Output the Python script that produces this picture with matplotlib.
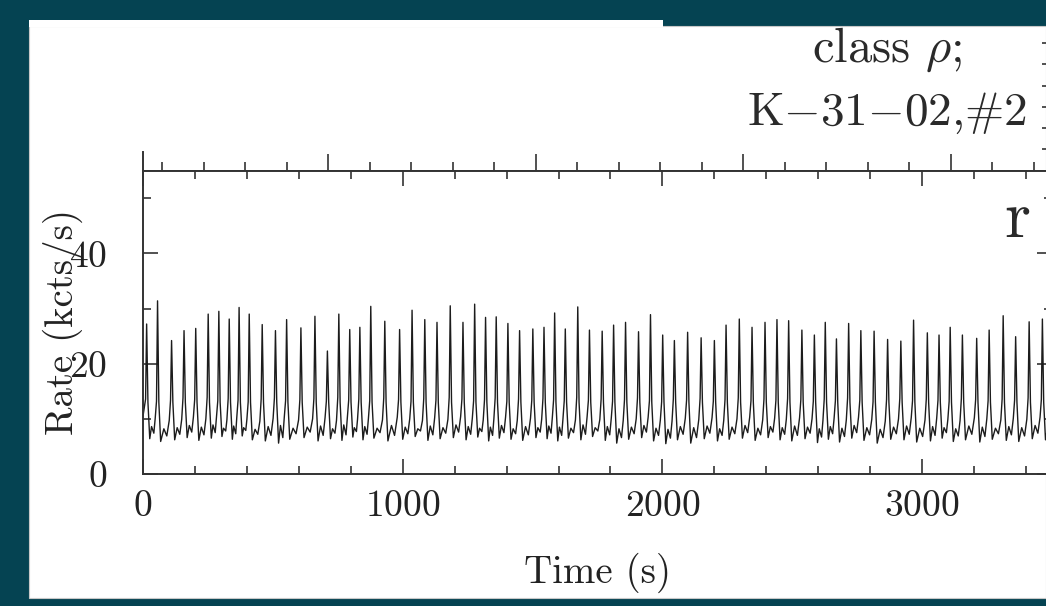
import numpy as np
import matplotlib
matplotlib.use("Agg")
from matplotlib import pyplot as plt
from matplotlib.patches import Rectangle
from matplotlib.ticker import MultipleLocator

plt.rcParams['font.family'] = 'cmr10'
plt.rcParams['mathtext.fontset'] = 'cm'
plt.rcParams['axes.formatter.use_mathtext'] = True

# ---------------- data ----------------

# peak times (s) and peak rates (kcts/s) of the flares
peak_t = [14, 56, 110, 158, 203, 251, 292, 332, 370, 409, 459, 510, 553, 608,
          662, 710, 754, 796, 835, 877, 931, 988, 1036, 1085, 1132, 1183, 1232,
          1277, 1319, 1360, 1405, 1450, 1501, 1544, 1585, 1626, 1674, 1719,
          1768, 1812, 1858, 1908, 1954, 2001, 2046, 2097, 2149, 2200, 2245,
          2296, 2345, 2395, 2441, 2486, 2537, 2585, 2627, 2670, 2717, 2764,
          2815, 2867, 2918, 2967, 3020, 3065, 3108, 3155, 3210, 3258, 3312,
          3360, 3412, 3463]
peak_rate = [27.2, 31.4, 24.2, 26.0, 26.4, 29.0, 29.5, 28.1, 30.2, 29.0, 27.1,
             26.0, 28.0, 26.5, 28.6, 22.3, 29.0, 26.2, 26.6, 30.4, 27.7, 26.2,
             29.7, 28.0, 27.5, 30.5, 27.5, 30.8, 28.4, 28.5, 27.3, 26.0, 26.3,
             26.6, 29.2, 26.3, 30.3, 26.1, 25.9, 27.0, 27.5, 25.8, 28.9, 25.2,
             24.2, 25.7, 24.7, 24.2, 27.0, 28.1, 26.6, 27.5, 28.0, 27.8, 26.1,
             25.2, 27.5, 24.5, 27.3, 26.0, 25.9, 24.4, 24.1, 27.9, 25.6, 25.2,
             26.6, 25.2, 24.6, 26.1, 28.7, 24.9, 27.6, 28.1]
# level of the dip after each flare and of the small hump before the next one
dip_rate = [6.4, 5.9, 6.2, 6.6, 6.1, 6.5, 6.8, 6.3, 6.9, 6.2, 6.0, 5.6, 6.3,
            6.6, 6.0, 6.4, 6.1, 6.7, 6.2, 6.5, 6.0, 6.3, 6.8, 6.1, 6.4, 6.6,
            6.2, 6.7, 6.0, 6.5, 6.3, 6.1, 6.6, 6.4, 6.0, 6.5, 6.2, 6.8, 6.1,
            5.6, 6.3, 6.6, 6.0, 5.5, 6.2, 5.6, 6.4, 6.0, 6.3, 6.5, 6.1, 6.6,
            6.2, 6.0, 6.4, 5.7, 6.3, 5.8, 6.5, 6.1, 5.6, 6.3, 6.2, 5.8, 6.0,
            6.5, 5.9, 6.2, 5.8, 6.3, 6.1, 5.9, 6.4, 6.2]
hump_rate = [8.6, 8.2, 8.4, 8.8, 8.5, 8.9, 8.3, 8.7, 8.4, 8.1, 8.6, 8.8, 8.3,
             8.5, 8.7, 8.2, 8.9, 8.4, 8.6, 8.3, 8.8, 8.5, 8.2, 8.7, 8.4, 8.9,
             8.6, 8.3, 8.5, 8.8, 8.2, 8.6, 8.4, 8.7, 8.5, 8.3, 8.9, 8.4, 8.6,
             8.2, 8.5, 8.8, 8.3, 8.1, 8.6, 8.4, 8.7, 8.2, 8.5, 8.8, 8.3, 8.6,
             8.4, 8.7, 8.5, 8.2, 8.6, 8.3, 8.8, 8.4, 8.1, 8.5, 8.7, 8.3, 8.6,
             8.4, 8.2, 8.7, 8.5, 8.3, 8.6, 8.4, 8.8, 8.5]
start_rate = 10.5

x_range = (0, 3500)
y_range = (0, 55)

# ---------------- light curve vertices ----------------
t_pts = [0.0]
r_pts = [start_rate]
for i in range(len(peak_t)):
    tp = peak_t[i]
    t_pts += [tp - 4, tp]
    r_pts += [hump_rate[i] + 5, peak_rate[i]]
    if i + 1 < len(peak_t):
        g = peak_t[i + 1] - tp
    else:
        g = 45
    t_pts += [tp + 5, tp + 12, tp + 0.45 * g, tp + 0.66 * g, tp + g - 9]
    r_pts += [13.0, dip_rate[i], hump_rate[i], dip_rate[i] + 1.0, hump_rate[i] + 1.5]
t_pts = np.array(t_pts)
r_pts = np.array(r_pts)
keep = t_pts <= x_range[1]
t_pts, r_pts = t_pts[keep], r_pts[keep]

# ---------------- figure ----------------
W, H = 1046, 606
fig = plt.figure(figsize=(W / 100, H / 100), dpi=100)
fig.patch.set_facecolor('#054352')

def px(x0, y0, x1, y1):
    # pixel box (top-left origin) -> figure fraction rect
    return [x0 / W, 1 - y1 / H, (x1 - x0) / W, (y1 - y0) / H]

# white page pieces
r = px(29, 26, 1046, 598)
fig.patches.append(Rectangle((r[0], r[1]), r[2], r[3], transform=fig.transFigure,
                             facecolor='white', edgecolor='#c8c8c8', lw=0.8, zorder=-5))
r = px(29, 20, 663, 27)
fig.patches.append(Rectangle((r[0], r[1]), r[2], r[3], transform=fig.transFigure,
                             facecolor='white', edgecolor='none', zorder=-5))

L, R, T, B = 143, 1052, 170.7, 474

# upper panel (only its bottom ticks and spine stubs are visible)
ax_up = fig.add_axes(px(L, 24, R, T))
ax_up.patch.set_visible(False)
ax_up.set_xlim(107, 4488)
ax_up.set_ylim(0, 1)
ax_up.spines['top'].set_visible(False)
ax_up.spines['left'].set_bounds(0, 0.126)
for s in ax_up.spines.values():
    s.set_linewidth(1.4)
    s.set_color('#333333')
ax_up.xaxis.set_major_locator(MultipleLocator(1000))
ax_up.xaxis.set_minor_locator(MultipleLocator(200))
ax_up.yaxis.set_major_locator(MultipleLocator(0.145))
ax_up.tick_params(axis='x', which='both', direction='in', bottom=True, top=False,
                  labelbottom=False, width=1.2, color='#333333')
ax_up.tick_params(axis='x', which='major', length=12)
ax_up.tick_params(axis='x', which='minor', length=6.5)
ax_up.tick_params(axis='y', which='both', direction='in', left=False, right=True,
                  labelleft=False, length=7, width=1.2, color='#333333')

ax = fig.add_axes(px(L, T, R, B))
ax.plot(t_pts, r_pts, color='#1c1c1c', lw=1.0)
ax.set_xlim(*x_range)
ax.set_ylim(*y_range)
ax.xaxis.set_major_locator(MultipleLocator(1000))
ax.xaxis.set_minor_locator(MultipleLocator(200))
ax.yaxis.set_major_locator(MultipleLocator(20))
ax.yaxis.set_minor_locator(MultipleLocator(10))
ax.tick_params(which='both', direction='in', top=True, right=True,
               width=1.2, color='#333333', labelsize=27, labelcolor='#222222')
ax.tick_params(which='major', length=11, pad=11)
ax.tick_params(which='minor', length=6)
ax.tick_params(axis='y', which='major', pad=26)
for s in ax.spines.values():
    s.set_linewidth(1.4)
    s.set_color('#333333')

ax.set_xlabel('Time (s)', fontsize=28, color='#222222', labelpad=22)
ax.set_ylabel('Rate (kcts/s)', fontsize=28, color='#222222', labelpad=-10)

ax.text(0.962, 0.78, 'r', transform=ax.transAxes, fontsize=48,
        ha='center', va='baseline', color='#2a2a2a')

fig.text(887 / W, 1 - 50 / H, r'class $\rho$;', fontsize=35, ha='center',
         va='center', color='#2a2a2a')
fig.text(887 / W, 1 - 113 / H, r'K$-$31$-$02,#2', fontsize=34, ha='center',
         va='center', color='#2a2a2a')

fig.savefig('out.png', dpi=100, facecolor=fig.get_facecolor())
